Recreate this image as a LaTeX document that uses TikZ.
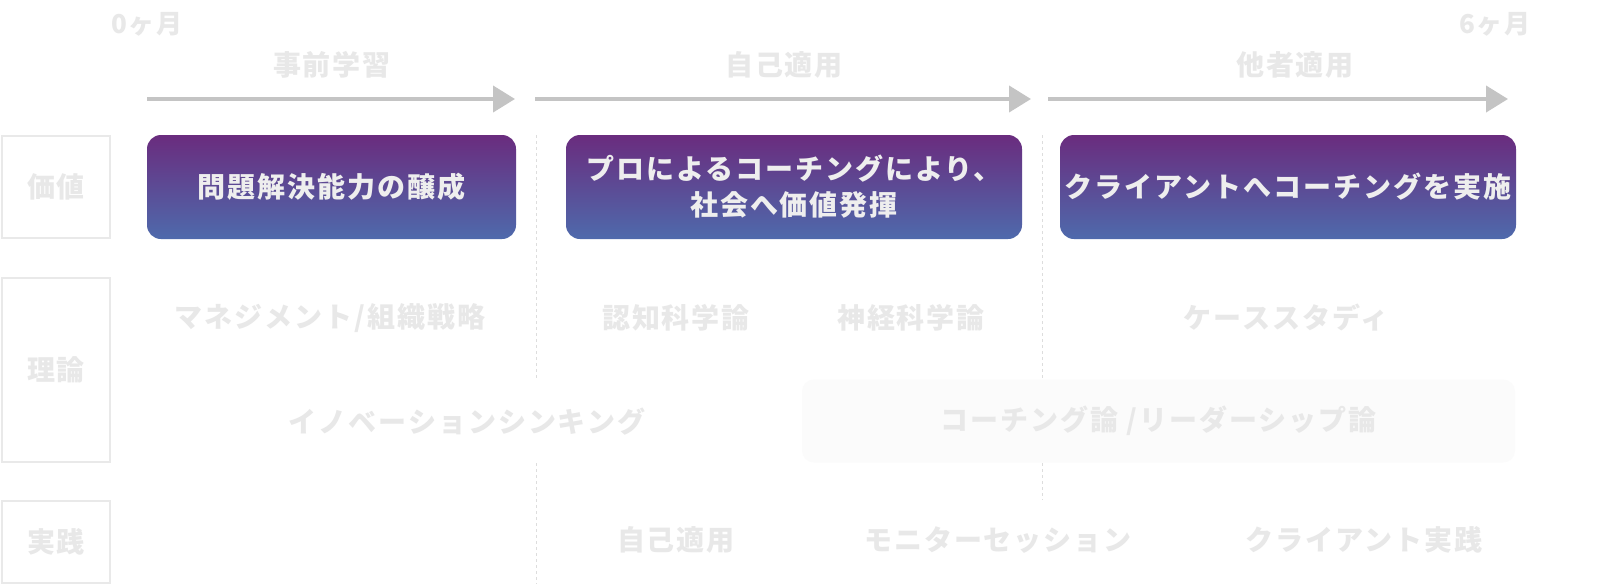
\documentclass[tikz,border=0pt]{standalone}
\usepackage{fontspec}
\newfontfamily\jp{Noto Sans CJK JP}[LetterSpace=7]
\usetikzlibrary{arrows.meta}
\definecolor{txtgray}{HTML}{E8E8E8}
\definecolor{boxline}{HTML}{E9E9E9}
\definecolor{arrgray}{HTML}{C4C4C4}
\definecolor{dashgray}{HTML}{DDDDDD}
\definecolor{ptop}{HTML}{6A2C7E}
\definecolor{pbot}{HTML}{4E6AAC}
\definecolor{boxtxt}{HTML}{EEEEEE}
\definecolor{rectfill}{HTML}{FBFBFB}
\begin{document}
\begin{tikzpicture}[x=1pt,y=-1pt,
  lbl/.style={font=\jp\bfseries\fontsize{28}{34}\selectfont, text=txtgray, inner sep=0pt},
  mon/.style={font=\jp\bfseries\fontsize{26}{30}\selectfont, text=txtgray, inner sep=0pt},
  catbox/.style={draw=boxline, line width=2pt, inner sep=0pt, font=\jp\bfseries\fontsize{28}{34}\selectfont, text=txtgray},
  pbox/.style={rounded corners=14pt, top color=ptop, bottom color=pbot, text=boxtxt, inner sep=0pt, align=center, font=\jp\bfseries\fontsize{28}{36}\selectfont},
  tl/.style={draw=arrgray, line width=4pt, -{Triangle[length=22pt,width=26pt]}},
  dl/.style={draw=dashgray, line width=1pt, dash pattern=on 3pt off 3pt}]
\useasboundingbox (0,0) rectangle (1617,584);
\fill[white] (0,0) rectangle (1617,584);
% dashed separators
\coordinate (d1a) at (536,135); \coordinate (d1b) at (536,380);
\coordinate (d1c) at (536,463); \coordinate (d1d) at (536,584);
\coordinate (d2a) at (1042,135); \coordinate (d2b) at (1042,380);
\coordinate (d2c) at (1042,463); \coordinate (d2d) at (1042,500);
\draw[dl] (d1a) -- (d1b);
\draw[dl] (d1c) -- (d1d);
\draw[dl] (d2a) -- (d2b);
\draw[dl] (d2c) -- (d2d);
% months
\node[mon] (m0) at (147,24) {0ヶ月};
\node[mon] (m6) at (1495,24) {6ヶ月};
% phase headers
\node[lbl] (h1) at (332,65) {事前学習};
\node[lbl] (h2) at (784,65) {自己適用};
\node[lbl] (h3) at (1295,65) {他者適用};
% arrows
\coordinate (a1s) at (147,99); \coordinate (a1e) at (515,99);
\coordinate (a2s) at (535,99); \coordinate (a2e) at (1031,99);
\coordinate (a3s) at (1048,99); \coordinate (a3e) at (1508,99);
\draw[tl] (a1s) -- (a1e);
\draw[tl] (a2s) -- (a2e);
\draw[tl] (a3s) -- (a3e);
% category boxes
\node[catbox, minimum width=108pt, minimum height=102pt] (cv) at (56,187) {価値};
\node[catbox, minimum width=108pt, minimum height=184pt] (ct) at (56,370) {理論};
\node[catbox, minimum width=108pt, minimum height=82pt] (cp) at (56,542) {実践};
% value boxes
\node[pbox, minimum width=369pt, minimum height=104pt] (p1) at (331.5,187) {問題解決能力の醸成};
\node[pbox, minimum width=456pt, minimum height=104pt] (p2) at (794,187) {プロによるコーチングにより、\\社会へ価値発揮};
\node[pbox, minimum width=456pt, minimum height=104pt] (p3) at (1288,187) {クライアントへコーチングを実施};
% theory row
\node[lbl] (t1) at (330,318) {マネジメント/組織戦略};
\node[lbl] (t2) at (676,318) {認知科学論};
\node[lbl] (t3) at (911,318) {神経科学論};
\node[lbl] (t4) at (1286,318) {ケーススタディ};
\node[lbl] (t5) at (467,422) {イノベーションシンキング};
\node[lbl, fill=rectfill, rounded corners=12pt, minimum width=713pt, minimum height=83pt] (t6) at (1158.5,421) {コーチング論 /リーダーシップ論};
% practice row
\node[lbl] (r1) at (676,540) {自己適用};
\node[lbl] (r2) at (998,540) {モニターセッション};
\node[lbl] (r3) at (1364,540) {クライアント実践};
\end{tikzpicture}
\end{document}
